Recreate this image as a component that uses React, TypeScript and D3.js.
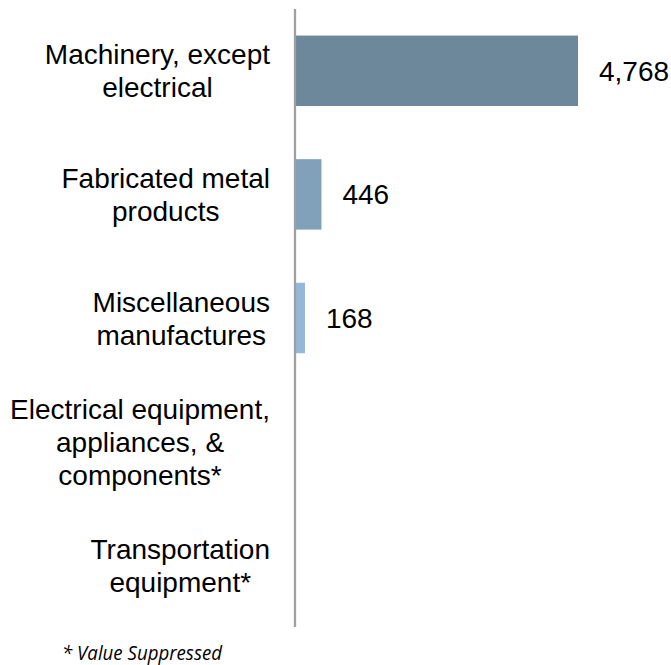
import React, { useRef, useEffect } from 'react';
import * as d3 from 'd3';

const categories = [
  'Machinery, except electrical',
  'Fabricated metal products',
  'Miscellaneous manufactures',
  'Electrical equipment, appliances, & components*',
  'Transportation equipment*',
];
const labelLines = [
  ['Machinery, except', 'electrical'],
  ['Fabricated metal', 'products'],
  ['Miscellaneous', 'manufactures'],
  ['Electrical equipment,', 'appliances, &', 'components*'],
  ['Transportation', 'equipment*'],
];
const values: (number | null)[] = [4768, 446, 168, null, null];
const barColors = ['#6d879b', '#81a1bb', '#95b8d7', '#95b8d7', '#95b8d7'];
const footnote = '* Value Suppressed';

const W = 671;
const H = 665;

export default function App() {
  const svgRef = useRef<SVGSVGElement>(null);

  useEffect(() => {
    if (!svgRef.current) return;
    const svg = d3.select(svgRef.current);
    svg.selectAll('*').remove();

    const axisX = 295;
    const labelRight = 270;
    const lineH = 33;

    const y = d3.scaleBand<string>()
      .domain(categories)
      .range([9, 627])
      .paddingInner(0.43)
      .paddingOuter(0.215);

    const x = d3.scaleLinear()
      .domain([0, 4768])
      .range([axisX, 578]);

    const font = '"Liberation Sans", Arial, sans-serif';

    // bars + value labels
    categories.forEach((c, i) => {
      const v = values[i];
      if (v == null) return;
      svg.append('rect')
        .attr('x', x(0))
        .attr('y', y(c)!)
        .attr('width', x(v) - x(0))
        .attr('height', y.bandwidth())
        .attr('fill', barColors[i]);

      svg.append('text')
        .attr('x', x(v) + 21)
        .attr('y', y(c)! + y.bandwidth() / 2)
        .attr('dy', '0.36em')
        .attr('font-family', font)
        .attr('font-size', 28)
        .attr('fill', '#000')
        .text(d3.format(',')(v));
    });

    // axis line
    svg.append('line')
      .attr('x1', axisX).attr('x2', axisX)
      .attr('y1', y.range()[0]).attr('y2', y.range()[1])
      .attr('stroke', '#a0a0a0')
      .attr('stroke-width', 2.3);

    // category labels: widest line right-aligned, lines centred on each other
    categories.forEach((c, i) => {
      const lines = labelLines[i];
      const cy = y(c)! + y.bandwidth() / 2;
      const g = svg.append('g');
      const texts = lines.map((ln, j) =>
        g.append('text')
          .attr('y', cy - ((lines.length - 1) * lineH) / 2 + 10 + j * lineH)
          .attr('text-anchor', 'middle')
          .attr('font-family', font)
          .attr('font-size', 28)
          .attr('fill', '#000')
          .text(ln)
      );
      const maxW = d3.max(texts, t => (t.node() as SVGTextElement).getComputedTextLength()) || 0;
      texts.forEach(t => t.attr('x', labelRight - maxW / 2));
    });

    svg.append('text')
      .attr('x', 62)
      .attr('y', 660)
      .attr('font-family', '"Open Sans", sans-serif')
      .attr('font-style', 'italic')
      .attr('font-size', 20)
      .attr('textLength', 160)
      .attr('lengthAdjust', 'spacingAndGlyphs')
      .attr('fill', '#000')
      .text(footnote);
  }, []);

  return (
    <svg
      ref={svgRef}
      width={W}
      height={H}
      style={{ position: 'absolute', left: 0, top: 0, background: '#fff' }}
    />
  );
}
